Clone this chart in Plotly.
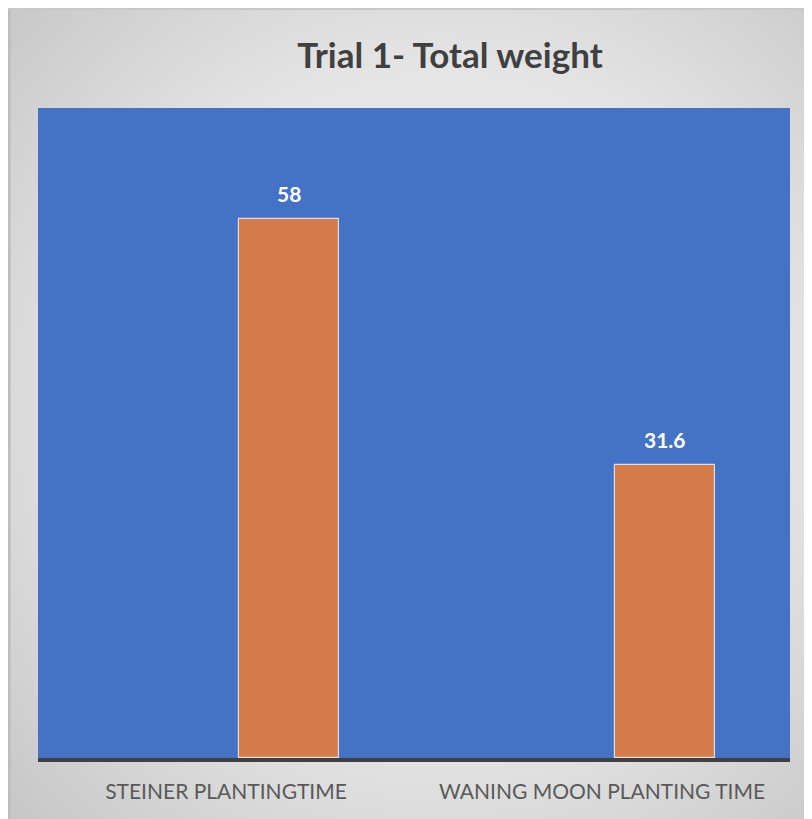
import base64
import plotly.graph_objects as go

categories = ["STEINER PLANTINGTIME", "WANING MOON PLANTING TIME"]
values = [58, 31.6]
labels = ["58", "31.6"]
title_text = "Trial 1- Total weight"

# page has an 8px body margin, so the figure starts at (8, 8)
W_PX, H_PX = 804, 811
L, R, T, B = 30, 22, 100, 61
PW = W_PX - L - R
PH = H_PX - T - B

# radial gray gradient background (as an inline SVG image)
gw, gh = W_PX, H_PX
svg = (
    f'<svg xmlns="http://www.w3.org/2000/svg" width="{gw}" height="{gh}">'
    '<defs><radialGradient id="g" cx="434" cy="395" r="620" gradientUnits="userSpaceOnUse">'
    '<stop offset="0" stop-color="#F2F2F2"/>'
    '<stop offset="0.55" stop-color="#E4E4E4"/>'
    '<stop offset="1" stop-color="#C4C4C4"/>'
    '</radialGradient></defs>'
    f'<rect x="0" y="0" width="{gw}" height="{gh}" fill="url(#g)"/>'
    f'<line x1="1" y1="0" x2="1" y2="{gh}" stroke="#BDBDBD" stroke-width="3"/>'
    f'<line x1="0" y1="1" x2="{gw}" y2="1" stroke="#C8C8C8" stroke-width="2"/>'
    '</svg>'
)
src = "data:image/svg+xml;base64," + base64.b64encode(svg.encode()).decode()

fig = go.Figure()
fig.add_trace(go.Bar(
    x=categories,
    y=values,
    width=0.266,
    offset=0.035,
    marker=dict(color="#D47B4A", line=dict(color="rgba(255,255,255,0.75)", width=1.2)),
    hoverinfo="skip",
    showlegend=False,
))

for c, v, t in zip(categories, values, labels):
    fig.add_annotation(
        x=c, y=v, xref="x", yref="y", text=f"<b>{t}</b>", showarrow=False,
        xshift=63, yshift=11, yanchor="bottom",
        font=dict(family="Lato", size=21, color="#FFFFFF"),
    )

fig.update_layout(
    width=W_PX, height=H_PX,
    margin=dict(l=L, r=R, t=T, b=B, pad=0),
    paper_bgcolor="#FFFFFF",
    plot_bgcolor="rgba(0,0,0,0)",
    title=dict(text=f"<b>{title_text}</b>", x=442 / W_PX, xref="container", xanchor="center",
               y=1 - 48 / H_PX, yref="container", yanchor="middle",
               font=dict(family="Lato", size=35, color="#404040")),
    images=[dict(source=src, xref="paper", yref="paper",
                 x=-L / PW, y=1 + T / PH,
                 sizex=gw / PW, sizey=gh / PH,
                 xanchor="left", yanchor="top", sizing="stretch", layer="below")],
    shapes=[dict(type="rect", xref="paper", yref="paper", x0=0, x1=1, y0=0, y1=1,
                 fillcolor="#4472C4", line=dict(width=0), layer="below")],
    xaxis=dict(
        type="category", range=[-0.5, 1.5],
        showline=True, linecolor="#404040", linewidth=4,
        showgrid=False, zeroline=False,
        ticks="outside", ticklen=12, tickcolor="rgba(0,0,0,0)",
        tickfont=dict(family="Lato", size=21, color="#595959"),
        fixedrange=True,
    ),
    yaxis=dict(range=[0, 70], visible=False, showgrid=False, zeroline=False, fixedrange=True),
    bargap=0,
)

fig.write_html("out.html")
